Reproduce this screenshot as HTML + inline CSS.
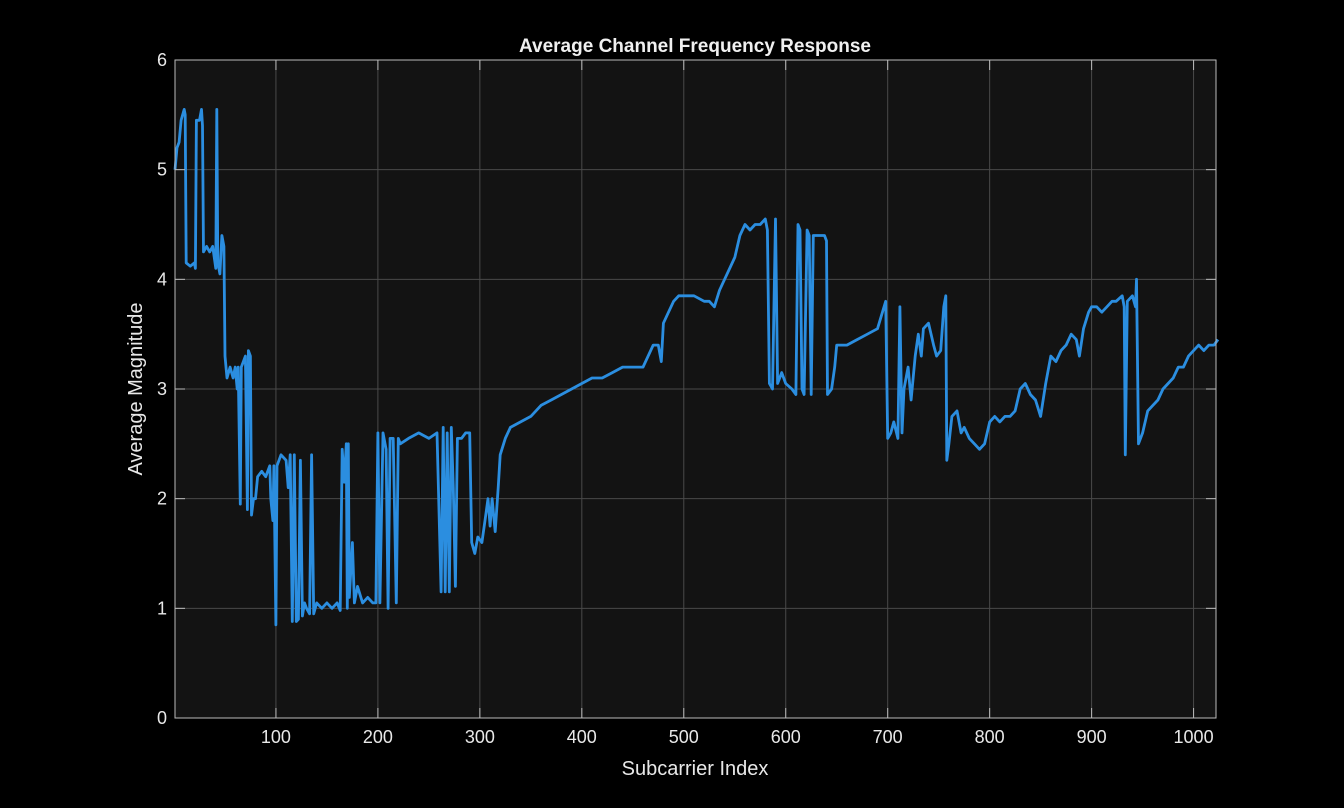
<!DOCTYPE html>
<html><head><meta charset="utf-8"><style>
html,body{margin:0;padding:0;background:#000;}
svg{display:block;font-family:"Liberation Sans",Arial,sans-serif;}
</style></head><body>
<svg id="chart" width="1344" height="808">
<rect x="0" y="0" width="1344" height="808" fill="#000"/>
<rect x="175" y="60" width="1041" height="658" fill="#131313"/>
<g id="grid"></g>
<g id="series"></g>
<g id="axes"></g>
<text x="695" y="52" text-anchor="middle" fill="#f0f0f0" font-size="19" font-weight="bold">Average Channel Frequency Response</text>
<text x="695" y="775" text-anchor="middle" fill="#e8e8e8" font-size="20">Subcarrier Index</text>
<text x="142" y="389" text-anchor="middle" fill="#e8e8e8" font-size="20" transform="rotate(-90 142 389)">Average Magnitude</text>
</svg>
<script>
const xTicks=[100,200,300,400,500,600,700,800,900,1000];
const yTicks=[0,1,2,3,4,5,6];
const subcarrier=[1,3,5,7,10,11,12,16,20,21,22,25,27,28,29,32,35,38,41,42,43,45,47,49,50,52,55,58,60,62,63,65,66,70,72,73,75,76,78,80,82,86,90,94,95,97,98,100,101,105,110,112,114,116,118,120,122,124,126,128,130,133,135,137,140,145,150,155,160,163,165,167,169,170,171,172,175,177,180,185,190,195,198,200,202,205,208,210,212,215,218,220,222,230,240,250,258,262,264,266,268,270,272,274,276,278,282,286,290,292,295,298,302,305,308,310,312,315,318,320,325,330,340,350,360,370,380,390,400,410,420,430,440,450,460,470,475,478,480,485,490,495,500,505,510,520,525,530,535,540,545,550,555,560,565,570,575,580,582,584,587,590,592,596,600,606,610,612,614,616,618,621,623,625,627,632,638,640,641,645,648,650,660,670,680,690,698,700,703,706,710,712,714,716,720,723,727,730,733,735,740,745,748,752,755,757,758,760,763,768,772,775,780,785,790,795,800,805,810,815,820,825,830,835,840,845,850,855,860,865,870,875,880,885,888,892,897,900,905,910,915,920,924,930,932,933,935,940,943,944,946,950,955,960,965,970,975,980,985,990,995,1000,1005,1010,1015,1020,1024];
const magnitude=[5.0,5.2,5.25,5.45,5.55,5.5,4.15,4.12,4.15,4.1,5.45,5.45,5.55,5.4,4.25,4.3,4.25,4.3,4.1,5.55,4.15,4.05,4.4,4.3,3.3,3.1,3.2,3.1,3.2,3.0,3.2,1.95,3.2,3.3,1.9,3.35,3.3,1.85,2.0,2.0,2.2,2.25,2.2,2.3,2.0,1.8,2.3,0.85,2.3,2.4,2.35,2.1,2.4,0.88,2.4,0.88,0.9,2.35,0.93,1.05,1.0,0.95,2.4,0.95,1.05,1.0,1.05,1.0,1.05,0.98,2.45,2.15,2.5,1.0,2.5,1.1,1.6,1.05,1.2,1.05,1.1,1.05,1.05,2.6,1.05,2.6,2.45,1.0,2.55,2.55,1.05,2.55,2.5,2.55,2.6,2.55,2.6,1.15,2.65,1.15,2.6,1.15,2.65,2.1,1.2,2.55,2.55,2.6,2.6,1.6,1.5,1.65,1.6,1.8,2.0,1.75,2.0,1.7,2.1,2.4,2.55,2.65,2.7,2.75,2.85,2.9,2.95,3.0,3.05,3.1,3.1,3.15,3.2,3.2,3.2,3.4,3.4,3.25,3.6,3.7,3.8,3.85,3.85,3.85,3.85,3.8,3.8,3.75,3.9,4.0,4.1,4.2,4.4,4.5,4.45,4.5,4.5,4.55,4.45,3.05,3.0,4.55,3.05,3.15,3.05,3.0,2.95,4.5,4.45,3.0,2.95,4.45,4.4,2.95,4.4,4.4,4.4,4.35,2.95,3.0,3.2,3.4,3.4,3.45,3.5,3.55,3.8,2.55,2.6,2.7,2.55,3.75,2.6,3.0,3.2,2.9,3.3,3.5,3.3,3.55,3.6,3.4,3.3,3.35,3.75,3.85,2.35,2.5,2.75,2.8,2.6,2.65,2.55,2.5,2.45,2.5,2.7,2.75,2.7,2.75,2.75,2.8,3.0,3.05,2.95,2.9,2.75,3.05,3.3,3.25,3.35,3.4,3.5,3.45,3.3,3.55,3.7,3.75,3.75,3.7,3.75,3.8,3.8,3.85,3.75,2.4,3.8,3.85,3.75,4.0,2.5,2.6,2.8,2.85,2.9,3.0,3.05,3.1,3.2,3.2,3.3,3.35,3.4,3.35,3.4,3.4,3.45,3.4];

const L=175,R=1216,T=60,B=718,XMIN=1,XMAX=1022,YMIN=0,YMAX=6;
function xs(v){return L+(v-XMIN)/(XMAX-XMIN)*(R-L);}
function ys(v){return B-(v-YMIN)/(YMAX-YMIN)*(B-T);}
const NS="http://www.w3.org/2000/svg";
const grid=document.getElementById('grid'),axes=document.getElementById('axes'),series=document.getElementById('series');
function mk(tag,attrs,parent){const e=document.createElementNS(NS,tag);for(const k in attrs)e.setAttribute(k,attrs[k]);parent.appendChild(e);return e;}
xTicks.forEach(t=>{
  const x=xs(t);
  const g=mk('line',{x1:x,x2:x,y1:T,y2:B,stroke:'#4a4a4a','stroke-width':1},grid);
  
  
  const tk=mk('line',{x1:x,x2:x,y1:B,y2:B-10,stroke:'#bbb','stroke-width':1},axes);
  
  
  const tk2=mk('line',{x1:x,x2:x,y1:T,y2:T+10,stroke:'#bbb','stroke-width':1},axes);
  
  
  const lb=mk('text',{x:x,y:B+25,'text-anchor':'middle',fill:'#e8e8e8','font-size':18},axes);
  lb.textContent=t;
  
  
});
yTicks.forEach(t=>{
  const y=ys(t);
  const g=mk('line',{x1:L,x2:R,y1:y,y2:y,stroke:'#4a4a4a','stroke-width':1},grid);
  
  
  const tk=mk('line',{x1:L,x2:L+10,y1:y,y2:y,stroke:'#bbb','stroke-width':1},axes);
  
  
  const tk2=mk('line',{x1:R-10,x2:R,y1:y,y2:y,stroke:'#bbb','stroke-width':1},axes);
  
  
  const lb=mk('text',{x:L-8,y:y+6,'text-anchor':'end',fill:'#e8e8e8','font-size':18},axes);
  lb.textContent=t;
  
  
});
const box=mk('rect',{x:L,y:T,width:R-L,height:B-T,fill:'none',stroke:'#bbb','stroke-width':1},axes);


let d='';
subcarrier.forEach((s,i)=>{d+=(i?'L':'M')+xs(s).toFixed(1)+' '+ys(magnitude[i]).toFixed(1);});
const p=mk('path',{d:d,fill:'none',stroke:'#2b8ee0','stroke-width':2.8,'stroke-linejoin':'round'},series);


</script>
</body></html>
